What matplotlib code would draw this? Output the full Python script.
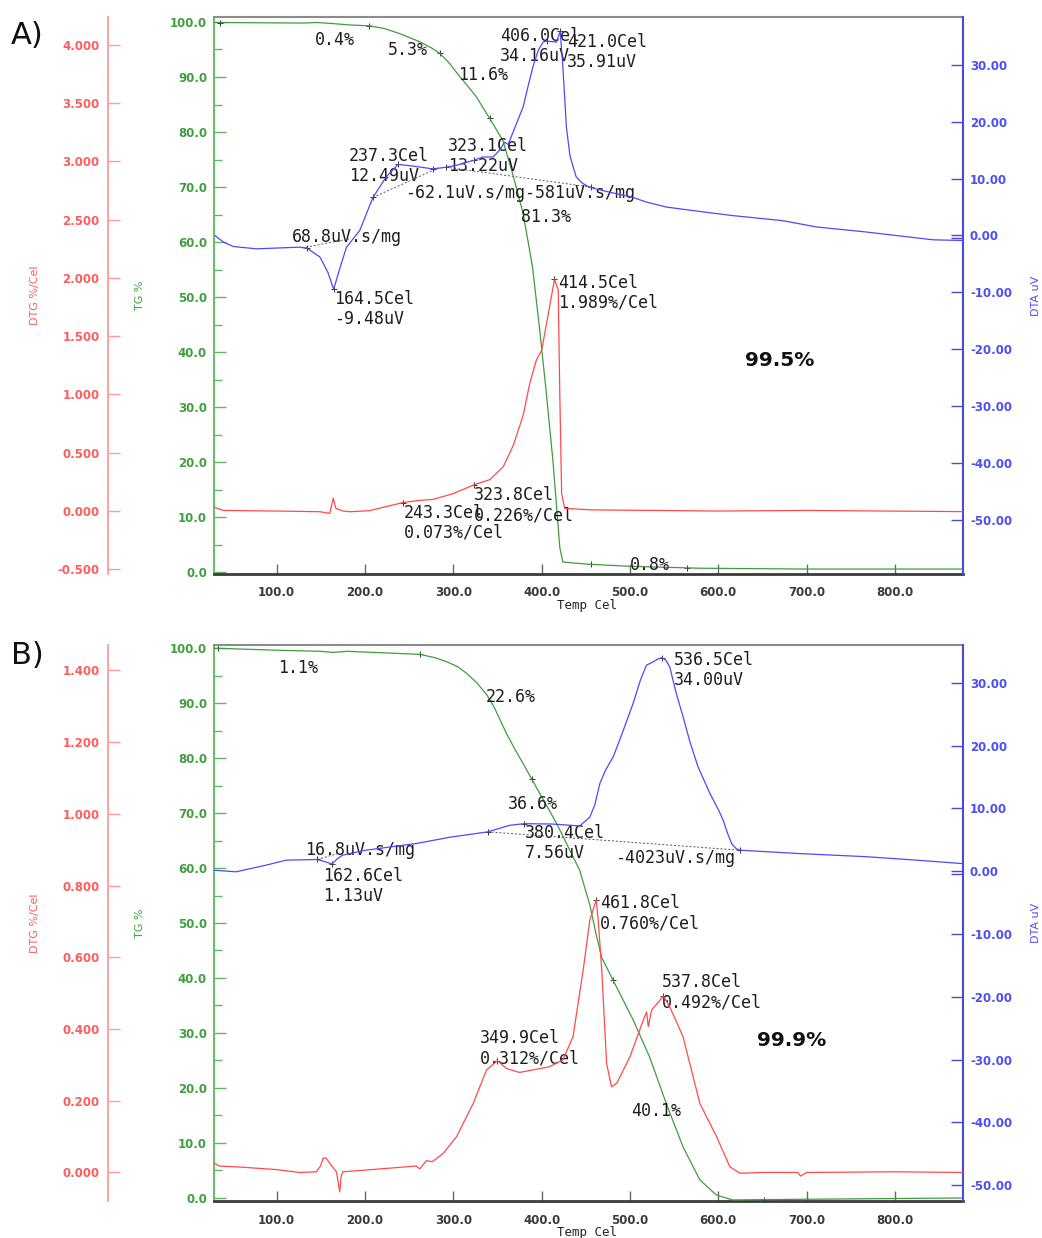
import matplotlib
matplotlib.use("Agg")
import matplotlib.pyplot as plt

# ---------------- Panel A data ----------------
a_tg_T = [30, 80, 130, 145, 160, 183, 205, 222, 239, 262, 275, 284.6, 296, 307, 316, 326, 341,
          356, 367, 379, 389.6, 397.8, 405, 413, 420.5, 424, 435, 456, 500, 579, 700, 877]
a_tg = [99.9, 99.85, 99.8, 99.9, 99.75, 99.45, 99.3, 98.8, 97.9, 96.4, 95.3, 94.3, 92.4, 90.1,
        88.4, 86.4, 82.5, 78.5, 72.5, 65.2, 55.5, 44.0, 33.0, 19.8, 4.5, 1.9, 1.7, 1.45, 1.1,
        0.75, 0.6, 0.6]

a_dta_T = [30, 40, 51, 77, 126, 134, 149, 158, 164.5, 171, 179, 194, 209, 224, 237.3, 254, 277,
           292, 305, 323.1, 333.6, 345, 352.5, 358, 362, 367.7, 379, 385, 390, 396, 401.6, 406,
           416.8, 421, 424, 428, 432, 439, 446, 454, 466, 503, 518, 541, 580, 616, 673, 711,
           768, 843, 877]
a_dta = [0.0, -1.2, -1.94, -2.35, -2.05, -2.2, -3.8, -6.5, -9.48, -6.0, -2.05, 0.88, 6.7, 10.3,
         12.49, 12.2, 11.7, 12.0, 12.4, 13.22, 13.8, 13.8, 15.0, 16.4, 16.0, 18.2, 22.6, 26.5,
         29.6, 32.5, 34.0, 34.16, 34.0, 35.91, 29.6, 19.0, 14.0, 10.3, 9.2, 8.5, 8.0, 6.7, 5.9,
         5.0, 4.2, 3.5, 2.6, 1.5, 0.6, -0.76, -0.88]

a_dtg_T = [30, 40, 100, 149, 160, 164, 167, 175, 183, 205, 225, 243.3, 260, 277, 300, 323.8,
           341.5, 356.5, 368, 379, 386.5, 394, 400, 407.6, 414.5, 418.7, 420.5, 422.6, 426, 456,
           600, 700, 877]
a_dtg = [0.03, 0.005, 0.0, -0.006, -0.02, 0.11, 0.023, 0.0, -0.006, 0.003, 0.04, 0.073, 0.09,
         0.10, 0.15, 0.226, 0.27, 0.38, 0.566, 0.82, 1.095, 1.295, 1.38, 1.695, 1.989, 1.895, 1.0,
         0.152, 0.023, 0.01, 0.0, 0.005, -0.005]

a_tg_mk_T = [36, 205, 284.6, 341, 456, 565]
a_tg_mk = [99.9, 99.3, 94.3, 82.5, 1.45, 0.7]
a_dta_mk_T = [134, 164.5, 209, 237.3, 277, 292, 323.1, 406, 421, 456]
a_dta_mk = [-2.2, -9.48, 6.7, 12.49, 11.7, 12.0, 13.22, 34.16, 35.91, 8.5]
a_dtg_mk_T = [243.3, 323.8, 414.5]
a_dtg_mk = [0.073, 0.226, 1.989]
a_base_T = [[129, 182], [209, 285], [292, 456]]
a_base = [[-2.2, -0.6], [6.7, 12.0], [12.0, 8.5]]

# ---------------- Panel B data ----------------
b_tg_T = [28, 33.5, 100, 150, 164, 180, 262.5, 280, 292.6, 305, 315, 327, 338, 346, 353, 360,
          370, 380, 388.6, 416.9, 443, 454.5, 461.8, 468, 480.8, 503.5, 522, 541, 560, 579,
          597.6, 616, 652, 800, 877]
b_tg = [99.95, 99.95, 99.6, 99.4, 99.2, 99.4, 98.85, 98.2, 97.5, 96.6, 95.4, 93.6, 91.45, 89.3,
        86.9, 84.5, 81.5, 78.7, 76.2, 68.1, 59.6, 53.3, 47.8, 43.7, 39.6, 32.4, 25.7, 17.2, 9.3,
        3.3, 0.55, -0.36, -0.3, -0.1, 0.0]

b_dta_T = [28, 54, 88, 110.5, 146, 155, 162.6, 168, 174.6, 201, 258, 296, 339, 363.6, 380.4,
           412.6, 443, 454.5, 460, 466, 472, 481, 490, 503.5, 512, 518.7, 526, 532, 536.5, 541,
           545, 552, 560, 568, 577, 590.4, 600, 605.5, 610, 615, 620, 624.4, 692, 768, 824.5, 877]
b_dta = [0.16, -0.1, 0.96, 1.75, 1.86, 1.5, 1.13, 1.9, 2.55, 3.34, 4.4, 5.4, 6.26, 7.3, 7.56,
         7.5, 7.2, 8.6, 10.5, 14.0, 16.0, 18.2, 21.5, 26.7, 30.5, 32.8, 33.3, 33.8, 34.0, 33.5,
         32.5, 28.5, 24.6, 20.5, 16.6, 12.4, 9.8, 8.1, 6.2, 4.4, 3.6, 3.34, 2.8, 2.3, 1.75, 1.2]

b_dtg_T = [28, 35, 60, 100, 126, 145, 150, 152.5, 156, 160, 165, 167.6, 171.4, 173, 175, 201.6,
           258, 262, 269.5, 276, 288.5, 303.6, 322.5, 337.6, 349.9, 360, 375, 390, 409, 424,
           435.5, 447, 454.5, 461.8, 464, 468, 473.5, 479, 485, 500, 515, 518.8, 520.7, 524.5,
           537.8, 545, 560, 579, 598, 613, 624.4, 650, 690, 693, 700, 800, 877]
b_dtg = [0.028, 0.018, 0.015, 0.008, 0.0, 0.002, 0.02, 0.04, 0.04, 0.026, 0.01, 0.002, -0.054,
         -0.01, 0.002, 0.007, 0.018, 0.01, 0.033, 0.03, 0.053, 0.1, 0.193, 0.286, 0.312, 0.29,
         0.279, 0.286, 0.295, 0.314, 0.379, 0.565, 0.704, 0.760, 0.704, 0.565, 0.304, 0.239,
         0.249, 0.323, 0.425, 0.448, 0.407, 0.453, 0.492, 0.462, 0.379, 0.193, 0.1, 0.016,
         -0.002, 0.0, 0.0, -0.01, 0.0, 0.002, 0.0]

b_tg_mk_T = [33.5, 262.5, 388.6, 480.8, 652]
b_tg_mk = [99.95, 98.85, 76.2, 39.6, -0.3]
b_dta_mk_T = [146, 162.6, 339, 380.4, 536.5, 624.4]
b_dta_mk = [1.86, 1.13, 6.26, 7.56, 34.0, 3.34]
b_dtg_mk_T = [349.9, 461.8, 537.8]
b_dtg_mk = [0.312, 0.760, 0.492]
b_base_T = [[146, 171], [339, 624.4]]
b_base = [[1.86, 2.9], [6.26, 3.34]]

# ---------------- tick labels ----------------
x_ticks = [100, 200, 300, 400, 500, 600, 700, 800]
tg_ticks = [0, 10, 20, 30, 40, 50, 60, 70, 80, 90, 100]
dta_ticks = [-50, -40, -30, -20, -10, 0, 10, 20, 30]
a_dtg_ticks = [-0.5, 0.0, 0.5, 1.0, 1.5, 2.0, 2.5, 3.0, 3.5, 4.0]
b_dtg_ticks = [0.0, 0.2, 0.4, 0.6, 0.8, 1.0, 1.2, 1.4]

# annotations (text, T, TG-axis y)
a_notes = [("0.4%", 143, 96.7), ("5.3%", 225.7, 94.9), ("11.6%", 305, 90.4),
           ("406.0Cel\n34.16uV", 352.5, 95.7), ("421.0Cel\n35.91uV", 428.4, 94.6),
           ("237.3Cel\n12.49uV", 181.5, 73.9), ("323.1Cel\n13.22uV", 293.7, 75.7),
           ("-62.1uV.s/mg-581uV.s/mg", 245, 68.9), ("81.3%", 376.3, 64.5),
           ("68.8uV.s/mg", 117, 60.9), ("164.5Cel\n-9.48uV", 164.6, 47.9),
           ("414.5Cel\n1.989%/Cel", 418.2, 50.8), ("323.8Cel\n0.226%/Cel", 323.1, 12.2),
           ("243.3Cel\n0.073%/Cel", 243.8, 9.0), ("0.8%", 499.8, 1.27)]
b_notes = [("1.1%", 101.1, 96.4), ("22.6%", 336.7, 91.1), ("36.6%", 361.6, 71.6),
           ("40.1%", 500.9, 15.8), ("536.5Cel\n34.00uV", 549.6, 96.0),
           ("16.8uV.s/mg", 131.7, 63.3), ("162.6Cel\n1.13uV", 152.1, 56.7),
           ("380.4Cel\n7.56uV", 380.9, 64.5), ("-4023uV.s/mg", 482.8, 61.8),
           ("461.8Cel\n0.760%/Cel", 465.8, 51.8), ("537.8Cel\n0.492%/Cel", 536, 37.4),
           ("349.9Cel\n0.312%/Cel", 329.9, 27.2)]

RED = "#ff4a4a"
GREEN = "#3d9e3d"
BLUE = "#4a4aff"
RED_T = "#ff5c5c"
GREEN_T = "#3f9f3f"
BLUE_T = "#4d4df5"
TXT = "#1e1e1e"
PX = 72.0 / 100.0  # points per pixel

fig = plt.figure(figsize=(10.42, 12.38), dpi=100)
W, H = 1042.0, 1238.0


def panel(top_px, bot_px, tg_lim, dta_lim, dtg_lim, dtg_ticks, dtg_fmt, dta_dbl,
          tg_T, tg, dta_T, dta, dtg_T, dtg, tgm_T, tgm, dtam_T, dtam, dtgm_T, dtgm,
          base_T, base, notes, big, big_pos, letter, letter_y):
    left_px, right_px = 214, 963
    span = float(right_px - left_px)
    ax = fig.add_axes([left_px / W, 1 - bot_px / H, span / W, (bot_px - top_px) / H])
    ax.set_xlim(29, 877)
    ax.set_ylim(*tg_lim)
    ax_dta = ax.twinx()
    ax_dta.set_ylim(*dta_lim)
    ax_dtg = ax.twinx()
    ax_dtg.set_ylim(*dtg_lim)

    # curves
    ax_dtg.plot(dtg_T, dtg, color=RED, lw=0.9, zorder=3)
    ax_dta.plot(dta_T, dta, color=BLUE, lw=0.9, zorder=3)
    ax.plot(tg_T, tg, color=GREEN, lw=0.9, zorder=3)
    for bt, bv in zip(base_T, base):
        ax_dta.plot(bt, bv, color="#555555", lw=0.7, ls=(0, (2, 2)), zorder=2)
    ax.plot(tgm_T, tgm, ls="none", marker="+", ms=5, mew=0.7, color="#333333")
    ax_dta.plot(dtam_T, dtam, ls="none", marker="+", ms=5, mew=0.7, color="#333333")
    ax_dtg.plot(dtgm_T, dtgm, ls="none", marker="+", ms=5, mew=0.7, color="#333333")

    # spines
    for s in ["top", "bottom", "left", "right"]:
        ax.spines[s].set_visible(False)
        ax_dta.spines[s].set_visible(False)
        ax_dtg.spines[s].set_visible(False)
    ax.spines["top"].set_visible(True)
    ax.spines["top"].set_color("#8c8c8c")
    ax.spines["top"].set_linewidth(1.5)
    ax.spines["bottom"].set_visible(True)
    ax.spines["bottom"].set_color("#3a3a3a")
    ax.spines["bottom"].set_linewidth(2.0)
    ax.spines["left"].set_visible(True)
    ax.spines["left"].set_color("#5cb85c")
    ax.spines["left"].set_linewidth(1.3)
    ax_dta.spines["right"].set_visible(True)
    ax_dta.spines["right"].set_color("#4a4ad8")
    ax_dta.spines["right"].set_linewidth(1.5)
    ax_dtg.spines["left"].set_visible(True)
    ax_dtg.spines["left"].set_position(("axes", (108 - left_px) / span))
    ax_dtg.spines["left"].set_color("#ff9a9a")
    ax_dtg.spines["left"].set_linewidth(1.3)
    ax_dtg.yaxis.set_ticks_position("left")
    ax_dtg.yaxis.set_label_position("left")

    tfont = dict(family="DejaVu Sans", weight="bold", size=8.5)

    # x axis
    ax.set_xticks(x_ticks)
    ax.set_xticklabels(["%.1f" % v for v in x_ticks], **tfont, color="#3a3a3a")
    ax.tick_params(axis="x", direction="in", length=10 * PX, width=1.0, color="#666666",
                   pad=9, top=False)
    ax.set_xlabel("Temp Cel", family="DejaVu Sans Mono", size=9, color="#222222")
    ax.xaxis.set_label_coords(0.498, -0.045)

    # TG axis
    ax.set_yticks(tg_ticks)
    ax.set_yticks([5, 15, 25, 35, 45, 55, 65, 75, 85, 95], minor=True)
    ax.set_yticklabels(["%.1f" % v for v in tg_ticks], **tfont, color=GREEN_T)
    ax.tick_params(axis="y", which="major", direction="in", length=12 * PX, width=1.0,
                   color="#5cb85c", pad=5, right=False)
    ax.tick_params(axis="y", which="minor", direction="in", length=8 * PX, width=1.0,
                   color="#5cb85c", right=False)
    ax.set_ylabel("TG %", family="DejaVu Sans", size=8, color=GREEN_T)
    ax.yaxis.set_label_coords((145 - left_px) / span, 0.5)

    # DTA axis
    ax_dta.set_yticks(dta_ticks)
    ax_dta.set_yticks([dta_dbl], minor=True)
    ax_dta.set_yticklabels(["%.2f" % v for v in dta_ticks], **tfont, color=BLUE_T)
    ax_dta.tick_params(axis="y", which="major", direction="in", length=12 * PX, width=1.0,
                       color="#4a4ad8", pad=5)
    ax_dta.tick_params(axis="y", which="minor", direction="in", length=12 * PX, width=1.0,
                       color="#4a4ad8", left=False)
    ax_dta.set_ylabel("DTA uV", family="DejaVu Sans", size=8, color=BLUE_T)
    ax_dta.yaxis.set_label_coords((1031 - left_px) / span, 0.5)

    # DTG axis
    ax_dtg.set_yticks(dtg_ticks)
    ax_dtg.set_yticklabels([dtg_fmt % v for v in dtg_ticks], **tfont, color=RED_T)
    ax_dtg.tick_params(axis="y", direction="in", length=12 * PX, width=1.0, color="#ff9a9a",
                       pad=6, left=True, right=False, labelleft=True, labelright=False)
    ax_dtg.set_ylabel("DTG %/Cel", family="DejaVu Sans", size=8, color=RED_T)
    ax_dtg.yaxis.set_label_coords((40 - left_px) / span, 0.5)

    # annotations
    for s, tx, ty in notes:
        ax.text(tx, ty, s, ha="left", va="center", family="DejaVu Sans Mono", size=12,
                color=TXT, linespacing=1.15, zorder=5)
    ax.text(big_pos[0], big_pos[1], big, ha="left", va="center", family="DejaVu Sans",
            weight="bold", size=14.5, color="#111111", zorder=5)
    fig.text(11 / W, 1 - letter_y / H, letter, ha="left", va="center",
             family="DejaVu Sans", size=22, color="#111111")


panel(17, 574, (-0.3, 100.9), (-59.5, 38.4), (-0.54, 4.237), a_dtg_ticks, "%.3f", -0.5,
      a_tg_T, a_tg, a_dta_T, a_dta, a_dtg_T, a_dtg, a_tg_mk_T, a_tg_mk, a_dta_mk_T, a_dta_mk,
      a_dtg_mk_T, a_dtg_mk, a_base_T, a_base, a_notes, "99.5%", (630, 38.5), "A)", 36)
panel(645, 1201, (-0.55, 100.55), (-52.5, 36.0), (-0.0795, 1.471), b_dtg_ticks, "%.3f", -0.45,
      b_tg_T, b_tg, b_dta_T, b_dta, b_dtg_T, b_dtg, b_tg_mk_T, b_tg_mk, b_dta_mk_T, b_dta_mk,
      b_dtg_mk_T, b_dtg_mk, b_base_T, b_base, b_notes, "99.9%", (643.6, 28.7), "B)", 656)

fig.savefig("out.png", dpi=100)
